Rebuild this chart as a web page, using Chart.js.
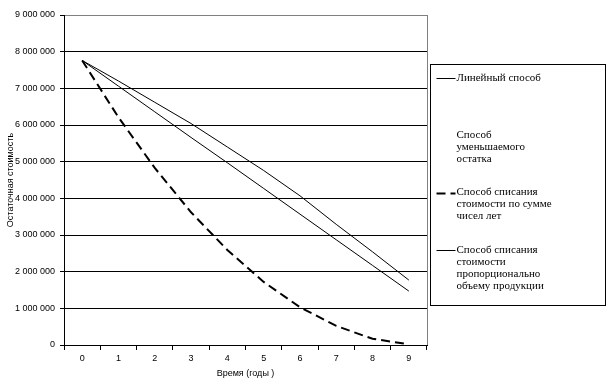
<!DOCTYPE html>
<html>
<head>
<meta charset="utf-8">
<script src="https://cdn.jsdelivr.net/npm/chart.js@4/dist/chart.umd.min.js"></script>
<style>
  html, body { margin: 0; padding: 0; background: #fff; }
</style>
</head>
<body>
<canvas id="myChart" width="613" height="386"></canvas>
<script>
/* global Chart */
const years = ["0", "1", "2", "3", "4", "5", "6", "7", "8", "9"];
const yTicks = [0, 1000000, 2000000, 3000000, 4000000, 5000000, 6000000, 7000000, 8000000, 9000000];

// остаточная стоимость по годам
const linearMethod = [7760000, 7060000, 6360000, 5660000, 4970000, 4270000, 3570000, 2870000, 2170000, 1470000];
const decliningBalance = [null, null, null, null, null, null, null, null, null, null]; // not drawn in the picture
const sumOfYears = [7760000, 6210000, 4830000, 3620000, 2590000, 1720000, 1030000, 520000, 170000, 20000];
const unitsOfProduction = [7760000, 7200000, 6620000, 6040000, 5400000, 4760000, 4070000, 3290000, 2540000, 1770000];

const seriesNames = [
  ["Линейный способ"],
  ["Способ", "уменьшаемого", "остатка"],
  ["Способ списания", "стоимости по сумме", "чисел лет"],
  ["Способ списания", "стоимости", "пропорционально", "объему продукции"],
];

const fmt = (v) => String(v).replace(/\B(?=(\d{3})+(?!\d))/g, " ");

// gray frame on the right of the plot area
const plotFrame = {
  id: "plotFrame",
  beforeDatasetsDraw(chart) {
    const { ctx, chartArea: a } = chart;
    ctx.save();
    ctx.strokeStyle = "#808080";
    ctx.lineWidth = 1;
    ctx.beginPath();
    ctx.moveTo(Math.round(a.right) + 0.5, a.top);
    ctx.lineTo(Math.round(a.right) + 0.5, a.bottom);
    ctx.stroke();
    ctx.restore();
  },
};

// excel-like legend box with multi-line labels
const legendBox = {
  id: "legendBox",
  afterDraw(chart) {
    const { ctx, chartArea: a } = chart;
    const left = Math.round(a.right) + 3.5;
    const top = 64.5;
    ctx.save();
    ctx.strokeStyle = "#000";
    ctx.lineWidth = 1;
    ctx.strokeRect(left, top, 175, 241);
    ctx.font = '11px "Liberation Serif"';
    ctx.textBaseline = "middle";
    ctx.fillStyle = "#000";
    chart.data.datasets.forEach((ds, i) => {
      const y = 78 + i * 57.3;
      if (ds.showLine !== false) {
        ctx.save();
        ctx.strokeStyle = ds.borderColor;
        ctx.lineWidth = ds.borderWidth;
        ctx.setLineDash(ds.borderDash || []);
        ctx.beginPath();
        ctx.moveTo(left + 6, Math.round(y) + 0.5);
        ctx.lineTo(left + 25, Math.round(y) + 0.5);
        ctx.stroke();
        ctx.restore();
      }
      ds.label.forEach((t, j) => ctx.fillText(t, left + 26, y + j * 12));
    });
    ctx.restore();
  },
};

const ctx = document.getElementById("myChart").getContext("2d");
const myChart = new Chart(ctx, {
  type: "line",
  data: {
    labels: years,
    datasets: [
      { label: seriesNames[0], data: linearMethod, borderColor: "#000", borderWidth: 1, pointRadius: 0, tension: 0 },
      { label: seriesNames[1], data: decliningBalance, borderColor: "#000", borderWidth: 1, pointRadius: 0, showLine: false },
      { label: seriesNames[2], data: sumOfYears, borderColor: "#000", borderWidth: 2, borderDash: [9, 5], pointRadius: 0, tension: 0 },
      { label: seriesNames[3], data: unitsOfProduction, borderColor: "#000", borderWidth: 1, pointRadius: 0, tension: 0 },
    ],
  },
  options: {
    responsive: false,
    animation: false,
    events: [],
    layout: { padding: { top: 15, right: 186, left: 0, bottom: 0 } },
    plugins: { legend: { display: false }, tooltip: { enabled: false } },
    scales: {
      x: {
        offset: true,
        grid: { offset: true, drawOnChartArea: false, color: "#000", tickLength: 5 },
        border: { color: "#000" },
        ticks: { color: "#000", font: { family: '"Liberation Sans"', size: 9 }, padding: 3, maxRotation: 0 },
        title: { display: true, text: "Время (годы )", color: "#000", font: { family: '"Liberation Sans"', size: 9 }, padding: { top: 0, bottom: 7 } },
        afterFit: (s) => { s.height = 41; },
      },
      y: {
        min: 0,
        max: 9000000,
        afterBuildTicks: (s) => { s.ticks = yTicks.map((v) => ({ value: v })); },
        grid: {
          color: (c) => (c.tick && c.tick.value === 9000000 ? "#808080" : "#000"),
          tickColor: "#000",
          tickLength: 4,
        },
        border: { color: "#000" },
        ticks: { color: "#000", font: { family: '"Liberation Sans"', size: 9 }, padding: 5, callback: (v) => fmt(v) },
        title: { display: true, text: "Остаточная стоимость", color: "#000", font: { family: '"Liberation Sans"', size: 9 }, padding: { top: 5, bottom: 0 } },
        afterFit: (s) => { s.width = 64; },
      },
    },
  },
  plugins: [plotFrame, legendBox],
});
</script>
</body>
</html>
